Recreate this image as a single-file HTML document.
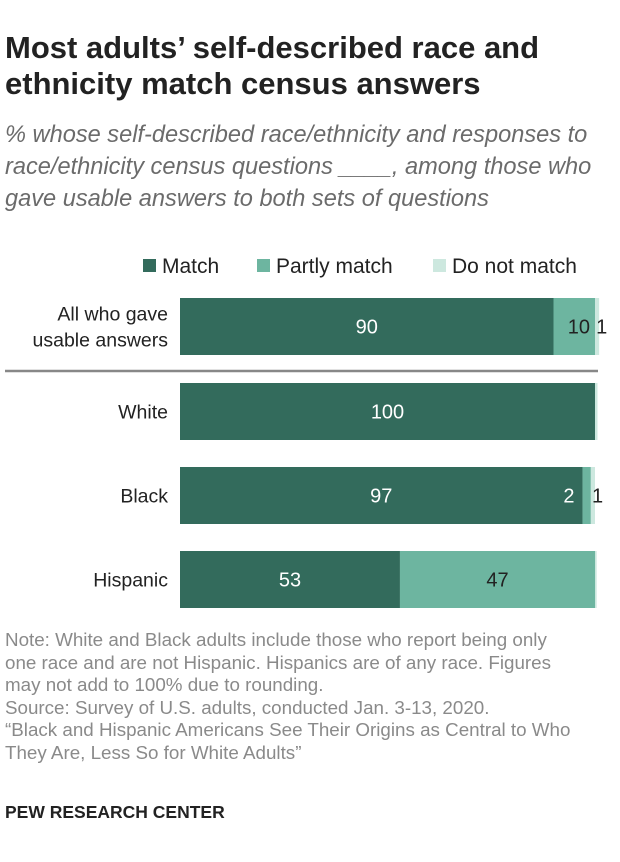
<!DOCTYPE html>
<html><head><meta charset="utf-8"><style>
body{margin:0;background:#fff;font-family:"Liberation Sans",sans-serif;}
#root{position:relative;width:620px;height:862px;overflow:hidden;}
.t{position:absolute;left:5px;top:30px;font-size:31px;font-weight:bold;line-height:36px;color:#222;width:580px;}
.s{position:absolute;left:5px;top:119px;font-size:23.6px;font-style:italic;line-height:32px;color:#6b6b6b;width:612px;}
.n{position:absolute;left:5px;top:629px;font-size:18.8px;line-height:22.5px;color:#8a8a8a;width:575px;}
.f{position:absolute;left:5px;top:802px;font-size:17.5px;font-weight:bold;color:#222;}
</style></head><body>
<div id="root">
<div class="t">Most adults’ self-described race and ethnicity match census answers</div>
<div class="s">% whose self-described race/ethnicity and responses to race/ethnicity census questions ____, among those who gave usable answers to both sets of questions</div>
<svg id="svg" width="620" height="862" style="position:absolute;left:0;top:0"></svg>
<div class="n">Note: White and Black adults include those who report being only<br>one race and are not Hispanic. Hispanics are of any race. Figures<br>may not add to 100% due to rounding.<br>Source: Survey of U.S. adults, conducted Jan. 3-13, 2020.<br>“Black and Hispanic Americans See Their Origins as Central to Who They Are, Less So for White Adults”</div>
<div class="f">PEW RESEARCH CENTER</div>
</div>
<script>
const categories=[["All who gave","usable answers"],["White"],["Black"],["Hispanic"]];
const match=[90,100,97,53];
const partly=[10,0,2,47];
const notMatch=[1,0.6,1,0.4];
const seriesNames=["Match","Partly match","Do not match"];
const colors=["#336b5c","#6db5a0","#cde8df"];
const NS="http://www.w3.org/2000/svg";
const svg=document.getElementById('svg');
const x0=180,scale=4.15;
const xs=v=>v*scale;
const barTops=[298,383,467,551],barH=57;
function mk(tag,attrs,txt){const e=document.createElementNS(NS,tag);for(const k in attrs)e.setAttribute(k,attrs[k]);if(txt!==undefined)e.textContent=txt;svg.appendChild(e);return e;}
const legX=[143,257,433];
seriesNames.forEach((nm,i)=>{
  const r=mk('rect',{x:legX[i],y:259,width:13,height:13,fill:colors[i]});
  
  
  const t=mk('text',{x:legX[i]+19,y:273,'font-size':21,fill:'#222'},nm);
  
  
});
const sep=mk('line',{x1:5,x2:598,y1:371,y2:371,stroke:'#888','stroke-width':2.5});


categories.forEach((cat,i)=>{
  const y=barTops[i];
  cat.forEach((ln,j)=>{
    const cy=y+barH/2+7-(cat.length-1)*13+j*26;
    const t=mk('text',{x:168,y:cy,'font-size':19.5,fill:'#222','text-anchor':'end'},ln);
    
    
  });
  const vals=[match[i],partly[i],notMatch[i]];
  let cx=x0;
  vals.forEach((v,k)=>{
    const w=xs(v);
    if(w>0){
      const r=mk('rect',{x:cx,y:y,width:w,height:barH,fill:colors[k]});
      
      
    }
    if(v>=1){
      let lx=cx+w/2,fill=k===0?'#fff':'#222',anchor='middle';
      if(k===1&&w<25){lx=cx-8;fill='#fff';anchor='end';}
      else if(k===1&&w<60){lx=cx+w-5;anchor='end';}
      if(k===2){lx=cx+w-3;anchor='start';fill='#222';}
      const t=mk('text',{x:lx,y:y+barH/2+7,'font-size':20,fill:fill,'text-anchor':anchor},String(Math.round(v)));
      
      
    }
    cx+=w;
  });
});
</script>
</body></html>
